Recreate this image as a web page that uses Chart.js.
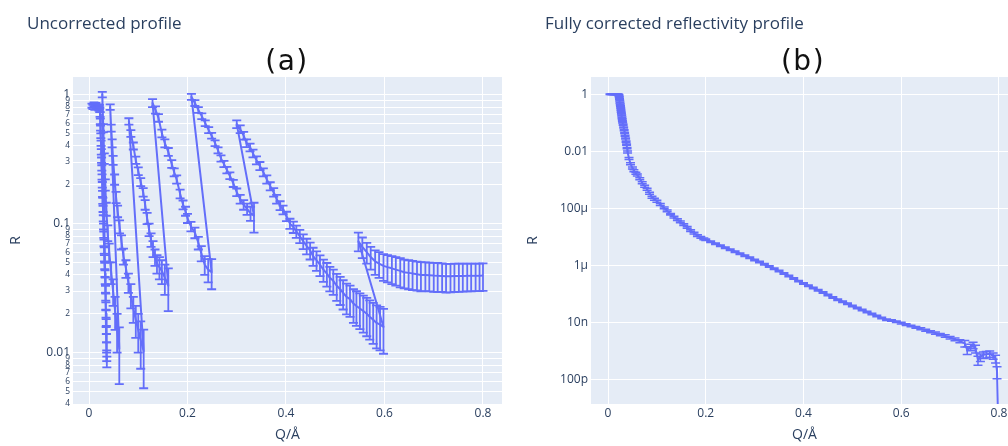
<!DOCTYPE html>
<html><head><meta charset="utf-8">
<script src="https://cdn.jsdelivr.net/npm/chart.js@4.4.1/dist/chart.umd.min.js"></script>
<style>
html,body{margin:0;padding:0;background:#fff;}
body{width:1008px;height:446px;overflow:hidden;position:relative;font-family:"Open Sans",sans-serif;}
canvas{position:absolute;top:0;}
.t{position:absolute;font-family:"Open Sans",sans-serif;font-size:17px;line-height:17px;color:#2a3f5f;white-space:nowrap;z-index:2;}
.p{position:absolute;font-family:"DejaVu Sans",sans-serif;font-size:28px;line-height:28px;color:#111;white-space:nowrap;transform:translateX(-50%);letter-spacing:1.5px;z-index:2;}
</style></head><body>
<canvas id="ca" width="504" height="446" style="left:0px"></canvas>
<canvas id="cb" width="514" height="446" style="left:504px"></canvas>
<div class="t" style="left:27px;top:14px">Uncorrected profile</div>
<div class="t" style="left:545px;top:14px">Fully corrected reflectivity profile</div>
<div class="p" style="left:287px;top:47px">(a)</div>
<div class="p" style="left:803px;top:47px">(b)</div>
<script>
// ---------- Panel (a): uncorrected profile (consecutive scans in one trace) ----------
const qA = [
 0.006,0.008,0.010,0.012,0.014,0.016,0.018,0.020,0.021,0.022,0.0225,0.023,0.0235,0.024,0.0245,0.025,0.0255,0.026,0.0265,0.027,0.0275,0.028,0.0285,0.029,0.0295,0.030,0.0305,0.031,0.0315,0.032,0.0325,0.033,0.0335,0.034,0.0343,0.0346,0.0349,0.0352,0.0355,0.0358,0.036,0.0362,
 0.027,0.029,0.031,0.033,0.035,0.038,0.041,0.045,0.049,0.053,0.057,0.0615,
 0.043,0.045,0.047,0.049,0.052,0.055,0.058,0.062,0.066,0.07,0.075,0.08,0.085,0.09,0.095,0.1,0.105,0.111,
 0.081,0.085,0.09,0.095,0.1,0.105,0.11,0.114,0.118,0.122,0.126,0.13,0.134,0.138,0.143,0.148,0.154,0.161,
 0.129,0.135,0.141,0.148,0.154,0.161,0.168,0.173,0.178,0.185,0.191,0.196,0.2,0.207,0.215,0.222,0.228,0.235,0.242,0.249,
 0.208,0.215,0.222,0.229,0.236,0.243,0.249,0.256,0.262,0.268,0.274,0.28,0.286,0.293,0.3,0.307,0.314,0.321,0.328,0.335,
 0.30,0.307,0.314,0.32,0.327,0.333,0.34,0.347,0.354,0.361,0.368,0.375,0.381,0.388,0.394,0.401,0.408,0.415,0.421,0.428,0.435,0.442,0.449,0.455,0.462,0.469,0.476,0.483,0.489,0.496,0.503,0.51,0.516,0.523,0.53,0.537,0.543,0.55,0.557,0.564,0.57,0.577,0.584,0.591,0.598,
 0.547,0.555,0.564,0.572,0.581,0.589,0.598,0.606,0.615,0.623,0.632,0.64,0.649,0.657,0.666,0.674,0.683,0.691,0.7,0.708,0.717,0.725,0.734,0.742,0.751,0.759,0.768,0.776,0.785,0.793,0.8
];
const rA = [
 0.82,0.80,0.84,0.79,0.83,0.80,0.81,0.78,0.80,0.76,0.70,0.62,0.55,0.48,0.42,0.36,0.31,0.27,0.23,0.20,0.17,0.15,0.13,0.11,0.095,0.082,0.071,0.062,0.054,0.047,0.041,0.036,0.031,0.027,0.023,0.020,0.017,0.015,0.013,0.011,0.0095,0.0085,
 1.0,0.55,0.32,0.2,0.13,0.085,0.06,0.042,0.03,0.021,0.015,0.0107,
 0.80,0.55,0.42,0.31,0.22,0.16,0.125,0.095,0.072,0.056,0.045,0.035,0.028,0.022,0.018,0.015,0.0125,0.0102,
 0.62,0.50,0.40,0.31,0.255,0.21,0.175,0.14,0.11,0.09,0.075,0.064,0.055,0.049,0.046,0.043,0.038,0.033,
 0.86,0.76,0.66,0.50,0.42,0.36,0.29,0.25,0.22,0.17,0.14,0.125,0.11,0.095,0.085,0.071,0.059,0.048,0.044,0.042,
 0.96,0.86,0.76,0.68,0.60,0.53,0.48,0.42,0.37,0.32,0.29,0.26,0.235,0.205,0.175,0.155,0.14,0.13,0.12,0.115,
 0.59,0.54,0.48,0.42,0.39,0.35,0.31,0.28,0.25,0.22,0.195,0.175,0.155,0.138,0.128,0.114,0.1,0.094,0.087,0.08,0.073,0.067,0.062,0.056,0.052,0.048,0.044,0.041,0.038,0.036,0.033,0.031,0.029,0.027,0.026,0.024,0.023,0.022,0.021,0.02,0.019,0.018,0.017,0.0165,0.0158,
 0.073,0.066,0.06,0.055,0.051,0.049,0.047,0.046,0.045,0.044,0.043,0.042,0.0415,0.041,0.0405,0.04,0.04,0.0398,0.0396,0.0395,0.0393,0.039,0.039,0.0392,0.0393,0.0393,0.0394,0.0394,0.0395,0.0395,0.0396
];
const eA = [
 0.03,0.03,0.03,0.03,0.03,0.03,0.03,0.03,0.03,0.03,0.03,0.03,0.025,0.02,0.02,0.018,0.015,0.013,0.011,0.01,0.009,0.008,0.007,0.006,0.005,0.0045,0.004,0.0035,0.003,0.0027,0.0024,0.0021,0.0019,0.0017,0.0015,0.0013,0.0012,0.0011,0.001,0.001,0.0009,0.0008,
 0.05,0.04,0.03,0.02,0.015,0.012,0.01,0.008,0.007,0.006,0.005,0.005,
 0.04,0.035,0.03,0.025,0.02,0.016,0.013,0.011,0.009,0.008,0.007,0.006,0.006,0.005,0.005,0.005,0.005,0.0049,
 0.035,0.03,0.025,0.02,0.018,0.015,0.013,0.012,0.011,0.01,0.009,0.009,0.008,0.008,0.009,0.009,0.01,0.012,
 0.06,0.05,0.045,0.035,0.03,0.025,0.02,0.018,0.016,0.013,0.011,0.01,0.009,0.008,0.008,0.008,0.008,0.008,0.009,0.011,
 0.05,0.045,0.04,0.035,0.03,0.028,0.025,0.022,0.02,0.018,0.016,0.015,0.014,0.013,0.012,0.012,0.012,0.013,0.015,0.03,
 0.04,0.037,0.033,0.029,0.027,0.024,0.022,0.02,0.018,0.016,0.014,0.013,0.012,0.011,0.01,0.0095,0.009,0.0095,0.0095,0.0095,0.0095,0.0093,0.0093,0.009,0.009,0.0088,0.0086,0.0085,0.0082,0.008,0.0078,0.0076,0.0074,0.0072,0.0071,0.007,0.0069,0.0068,0.0067,0.0066,0.0064,0.0063,0.0062,0.0061,0.006,
 0.012,0.012,0.011,0.011,0.011,0.011,0.011,0.011,0.011,0.011,0.011,0.0105,0.0105,0.0105,0.0102,0.0102,0.01,0.01,0.01,0.01,0.0098,0.0098,0.0097,0.0097,0.0097,0.0096,0.0096,0.0096,0.0095,0.0095,0.0095
];

// ---------- Panel (b): fully corrected reflectivity ----------
const qB = [
 0.004,0.006,0.008,0.010,0.012,0.014,0.016,0.018,0.020,0.021,0.022,
 0.0225,0.023,0.0235,0.024,0.0245,0.025,0.0255,0.026,0.0265,0.027,0.0275,0.028,0.0285,0.029,0.0295,0.030,0.031,0.032,0.033,0.034,0.035,0.036,0.037,0.038,0.039,
 0.04,0.043,0.046,0.05,0.053,0.057,0.06,0.065,0.07,0.075,0.08,0.085,0.09,0.095,0.1,0.107,0.115,0.121,0.128,0.135,0.142,0.148,0.155,0.162,0.169,0.176,0.183,0.19,0.196,
 0.20,0.21,0.22,0.23,0.24,0.25,0.26,0.27,0.28,0.29,0.30,0.31,0.32,0.33,0.34,0.35,0.36,0.37,0.38,0.39,0.40,0.41,0.42,0.43,0.44,0.45,0.46,0.47,0.48,0.49,0.50,0.51,0.52,0.53,0.54,0.55,0.56,0.57,0.58,0.59,0.60,0.61,0.62,0.63,0.64,0.65,0.66,0.67,0.68,0.69,0.70,0.71,0.72,
 0.73,0.735,0.742,0.747,0.752,0.757,0.762,0.768,0.774,0.781,0.788,0.793,0.796,0.799
];
const rB = [
 1.0,0.99,1.0,0.99,1.0,1.0,0.99,1.0,0.99,0.98,0.96,
 0.88,0.78,0.68,0.59,0.51,0.44,0.38,0.33,0.28,0.24,0.21,0.18,0.155,0.135,0.115,0.1,0.085,0.068,0.055,0.044,0.035,0.028,0.022,0.017,0.013,
 0.0095,0.0056,0.0037,0.0026,0.0021,0.0017,0.0015,0.0011,7.9e-4,6.0e-4,4.7e-4,3.4e-4,2.5e-4,2.1e-4,1.8e-4,1.38e-4,1.05e-4,8.3e-5,6.3e-5,5.0e-5,4.1e-5,3.4e-5,2.75e-5,2.2e-5,1.7e-5,1.38e-5,1.12e-5,9.8e-6,8.7e-6,
 8.13e-6,6.92e-6,5.89e-6,5.01e-6,4.27e-6,3.63e-6,3.09e-6,2.63e-6,2.24e-6,1.91e-6,1.58e-6,1.35e-6,1.12e-6,9.33e-7,7.76e-7,6.46e-7,5.37e-7,4.37e-7,3.55e-7,2.88e-7,2.40e-7,2.00e-7,1.66e-7,1.38e-7,1.15e-7,9.33e-8,7.76e-8,6.46e-8,5.50e-8,4.68e-8,3.89e-8,3.31e-8,2.82e-8,2.40e-8,2.04e-8,1.74e-8,1.48e-8,1.29e-8,1.20e-8,1.10e-8,9.77e-9,8.71e-9,7.76e-9,6.92e-9,6.17e-9,5.50e-9,4.90e-9,4.37e-9,3.89e-9,3.47e-9,3.02e-9,2.63e-9,2.29e-9,
 1.91e-9,1.12e-9,1.41e-9,1.66e-9,1.26e-9,5.0e-10,6.3e-10,7.6e-10,7.9e-10,8.3e-10,7.1e-10,5.6e-10,2.0e-10,1e-12
];
const relErrB = [
 0.02,0.02,0.02,0.02,0.02,0.02,0.02,0.02,0.02,0.02,0.02,
 0.03,0.03,0.03,0.03,0.03,0.03,0.03,0.03,0.03,0.03,0.03,0.03,0.03,0.03,0.03,0.03,0.04,0.04,0.04,0.04,0.04,0.04,0.05,0.05,0.05,
 0.08,0.08,0.08,0.08,0.08,0.08,0.08,0.08,0.08,0.08,0.08,0.08,0.08,0.08,0.08,0.08,0.07,0.07,0.07,0.07,0.07,0.07,0.07,0.07,0.07,0.07,0.07,0.07,0.07,
 0.06,0.06,0.06,0.06,0.06,0.06,0.06,0.06,0.06,0.06,0.06,0.06,0.06,0.06,0.06,0.06,0.06,0.06,0.06,0.06,0.06,0.06,0.06,0.06,0.06,0.06,0.06,0.06,0.06,0.06,0.06,0.06,0.06,0.06,0.06,0.06,0.06,0.06,0.06,0.06,0.07,0.07,0.07,0.07,0.08,0.08,0.08,0.09,0.09,0.1,0.1,0.11,0.12,
 0.25,0.3,0.25,0.25,0.3,0.35,0.3,0.25,0.25,0.25,0.25,0.3,0.45,0
];

// ---------- Axes ----------
const xTicks = [0, 0.2, 0.4, 0.6, 0.8];
const xLabels = ['0', '0.2', '0.4', '0.6', '0.8'];
const yTicksA = [0.004,0.005,0.006,0.007,0.008,0.009,0.01,0.02,0.03,0.04,0.05,0.06,0.07,0.08,0.09,0.1,0.2,0.3,0.4,0.5,0.6,0.7,0.8,0.9,1];
const yLabelsA = ['4','5','6','7','8','9','0.01','2','3','4','5','6','7','8','9','0.1','2','3','4','5','6','7','8','9','1'];
const yMajorA = ['0.01','0.1','1'];
const yTicksB = [1e-10,1e-8,1e-6,1e-4,1e-2,1];
const yLabelsB = ['100p','10n','1μ','100μ','0.01','1'];

const LINE = '#636efa', TXT = '#2a3f5f', BG = '#E5ECF6';

const plotBg = {
  id: 'plotBg',
  beforeDraw(chart) {
    const a = chart.chartArea, c = chart.ctx;
    c.save(); c.fillStyle = BG; c.fillRect(a.left, a.top, a.right - a.left, a.bottom - a.top); c.restore();
  }
};
const errorBars = {
  id: 'errorBars',
  afterDatasetsDraw(chart, args, o) {
    const {ctx, chartArea: a} = chart;
    const xs = chart.scales.x, ys = chart.scales.y;
    ctx.save();
    ctx.beginPath(); ctx.rect(a.left, a.top, a.right - a.left, a.bottom - a.top); ctx.clip();
    ctx.strokeStyle = o.color; ctx.lineWidth = o.width;
    chart.data.datasets.forEach(ds => ds.data.forEach(p => {
      if (!(p.e > 0)) return;
      const px = xs.getPixelForValue(p.x);
      const lo = p.y - p.e > 0 ? p.y - p.e : p.y * 1e-6;
      const y0 = ys.getPixelForValue(lo), y1 = ys.getPixelForValue(p.y + p.e);
      ctx.beginPath();
      ctx.moveTo(px, y0); ctx.lineTo(px, y1);
      ctx.moveTo(px - o.cap, y0); ctx.lineTo(px + o.cap, y0);
      ctx.moveTo(px - o.cap, y1); ctx.lineTo(px + o.cap, y1);
      ctx.stroke();
    }));
    ctx.restore();
  }
};

function pts(q, r, e) { return q.map((v, i) => ({x: v, y: r[i], e: e[i]})); }

function build(id, points, xr, yr, yTicks, yLabels, yFontFn, yW, yTitlePad, padRight, barW) {
  return new Chart(document.getElementById(id), {
    type: 'line',
    data: { datasets: [{ data: points, borderColor: LINE, borderWidth: 2, pointRadius: 0,
      tension: 0, fill: false, borderJoinStyle: 'round', clip: 0 }] },
    options: {
      responsive: false, animation: false, events: [],
      layout: { autoPadding: false, padding: { left: 0, top: 77, right: padRight, bottom: 0 } },
      plugins: { legend: { display: false }, tooltip: { enabled: false },
        errorBars: { color: LINE, width: barW, cap: 4.5 } },
      scales: {
        x: {
          type: 'linear', min: xr[0], max: xr[1],
          afterBuildTicks: s => { s.ticks = xTicks.map(v => ({value: v})); },
          afterFit: s => { s.height = 42; },
          grid: { color: '#ffffff', lineWidth: 1, drawTicks: false },
          border: { display: false },
          ticks: { autoSkip: false, maxRotation: 0, padding: 2, color: TXT,
            font: { family: 'Open Sans', size: 12 },
            callback: (v, i) => xLabels[i] },
          title: { display: true, text: 'Q/Å', color: TXT, font: { family: 'Open Sans', size: 14 },
            padding: { top: 0, bottom: 3 } }
        },
        y: {
          type: 'logarithmic', min: yr[0], max: yr[1],
          afterBuildTicks: s => { s.ticks = yTicks.map(v => ({value: v})); },
          afterFit: s => { s.width = yW; },
          grid: { color: '#ffffff', lineWidth: 1, drawTicks: false },
          border: { display: false },
          ticks: { autoSkip: false, padding: 3, color: TXT, font: yFontFn,
            callback: (v, i) => yLabels[i] },
          title: { display: true, text: 'R', color: TXT, font: { family: 'Open Sans', size: 14 },
            padding: { top: yTitlePad, bottom: 0 } }
        }
      }
    },
    plugins: [plotBg, errorBars]
  });
}

build('ca', pts(qA, rA, eA), [-0.0325, 0.8386], [0.004, 1.367], yTicksA, yLabelsA,
  ctx => ({ family: 'Open Sans', size: (ctx && ctx.index !== undefined && yMajorA.includes(yLabelsA[ctx.index])) ? 12 : 8.4 }),
  73, 7.6, 2, 1.8);
build('cb', pts(qB, rB, rB.map((v, i) => v * relErrB[i])), [-0.0348, 0.8389], [1.445e-11, 3.98], yTicksB, yLabelsB,
  () => ({ family: 'Open Sans', size: 12 }), 87, 20.6, 0, 1.5);
</script>
</body></html>
